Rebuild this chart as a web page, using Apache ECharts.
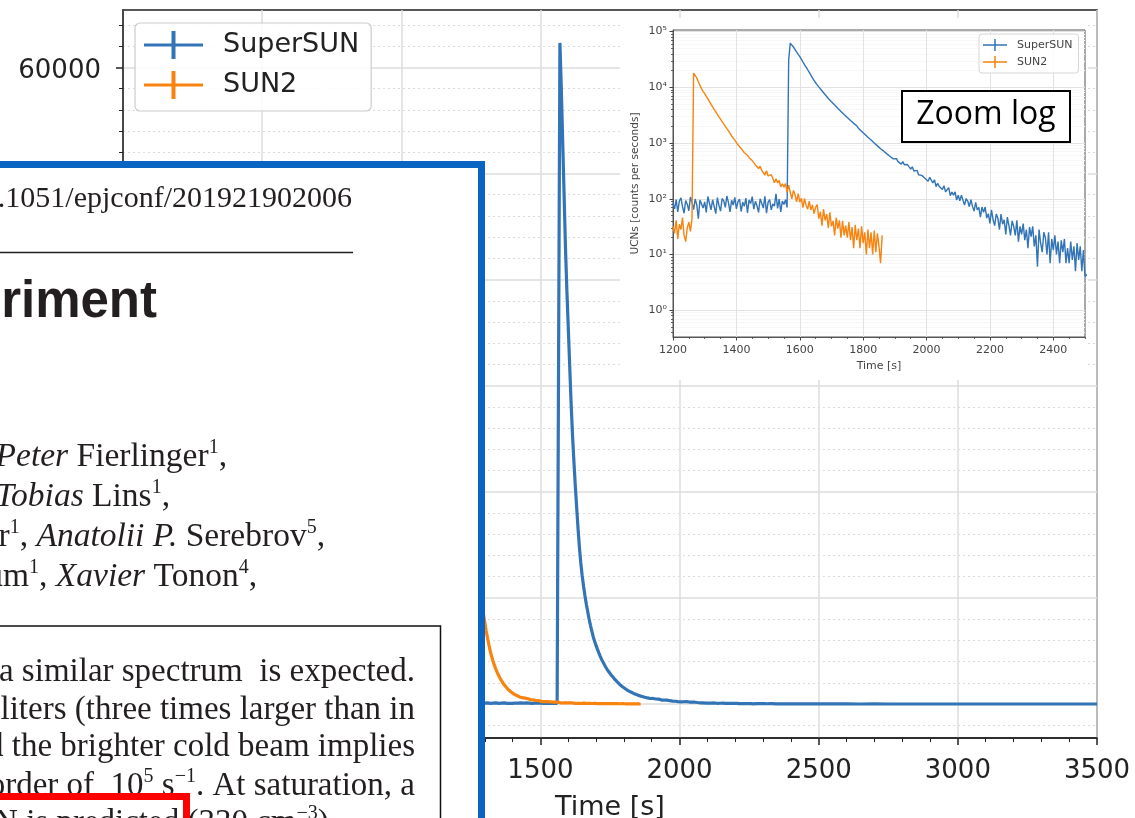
<!DOCTYPE html>
<html><head><meta charset="utf-8">
<script src="https://cdn.jsdelivr.net/npm/echarts@6/dist/echarts.min.js"></script>
<style>html,body{margin:0;padding:0;background:#fff}#c{width:1135px;height:818px}</style>
</head><body><div id="c"></div><script>
// ---------------- data ----------------
const seriesNames = ['SuperSUN', 'SUN2'];
const STEP = 5; // seconds between samples

// SuperSUN : background before the emptying
const superSunBaseStart = 1200;
const superSunBase = [84,66,97,58,91,104,72,55,93,80, 61,108,86,64,99,78,44,95,102,68,
  88,57,110,83,63,96,90,54,105,76, 60,101,92,70,112,85,58,94,77,106,
  66,89,98,59,87,73,103,56,95,82, 109,65,90,75,57,100,93,68,111,55,
  86,97,63,81,74,122,67,99,58,91, 79,96,70];
// SuperSUN : emptying peak and decay
const superSunPeakStart = 1565;
const superSunPeak = [31000,62300,58000,53000,48000,43000,39000,35500,32000,28500,
  25500,23000,20700,18600,16600,14800,13300,12100,11100,10200,
  9400,8700,8000,7400,6850,6300,5900,5500,5150,4820,
  4500,4200,3950,3700,3470,3250,3060,2880,2710,2550,
  2400,2260,2120,2040,1850,1800,1630,1590,1440,1420,
  1270,1260,1130,1110,1000,990,890,900,790,800,
  715,720,640,655,575,590,520,540];
// SuperSUN : noisy tail
const superSunNoisyStart = 1905;
const superSunNoisy = [526,464,475,418,463,409,378,411,374,342,
  374,315,316,324,270,290,263,283,233,240,
  207,243,216,192,220,165,189,168,181,146,
  172,133,142,158,114,132,116,133,95,116,
  92,116,94,77,101,91,72,96,73,60,
  86,63,70,47,71,57,71,45,54,36,
  63,42,33,53,45,28,53,35,42,23,
  47,33,22,40,32,22,41,17,32,23,
  36,18,28,13,31,21,32,14,22,6,
  28,16,11,25,20,10,25,7,19,12,
  22,10,17,7,18,11,19,7,13,7,
  17,8,14,5,16,8,14,5,12,4];
// SuperSUN : late tail (coarse sampling)
const superSunTailStart = 2550, superSunTailStep = 50;
const superSunTail = [8,9,6,7,5,6,5,4,5,4,3,4,3,4,3,3,2,3,2,3];

// SUN2 : background
const sun2BaseStart = 1200;
const sun2Base = [32,24,41,19,35,28,46,22,17,30,38,26,44];
// SUN2 : peak and decay
const sun2DecayStart = 1265;
const sun2Decay = [18000,17500,14800,12600,10900,9500,8500,7700,6900,6200,
  5550,4950,4450,4000,3620,3280,2960,2680,2430,2200,
  1990,1810,1650,
  1530,1340,1310,1130,1050,930,940,800,780,670,680,605,545,555,485,
  500,405,418,349,385,323,332,267,319,257,237,270,232,194,229,192,213,163,186,162,
  187,132,176,131,100,141,119,88,124,87,102,69,101,76,65,91,63,77,54,70,
  79,44,58,33,65,41,53,30,57,32,40,22,46,29,41,20,40,22,33,20,
  38,18,31,13,34,18,29,13,32,16,25,10,28,13,25,10,27,11,24,14,7,22];

// tick values
const mainYMajor = [0,10000,20000,30000,40000,50000,60000];
const mainYMinor = [-2000,2000,4000,6000,8000,12000,14000,16000,18000,22000,24000,26000,28000,
  32000,34000,36000,38000,42000,44000,46000,48000,52000,54000,56000,58000,62000,64000];
const insetXMajor = [1200,1400,1600,1800,2000,2200,2400];
const insetXMinor = [1250,1300,1350,1450,1500,1550,1650,1700,1750,1850,1900,1950,2050,2100,2150,2250,2300,2350,2450,2500];
const insetYMajor = [1,10,100,1000,10000,100000];
const insetYMinor = [0.4,0.5,0.6,0.7,0.8,0.9,2,3,4,5,6,7,8,9,20,30,40,50,60,70,80,90,
  200,300,400,500,600,700,800,900,2000,3000,4000,5000,6000,7000,8000,9000,
  20000,30000,40000,50000,60000,70000,80000,90000];
const supDigits = ['⁰','¹','²','³','⁴','⁵'];

// ---------------- build ----------------
function seg(start, step, vals) { return vals.map((v, i) => [start + i * step, v]); }
const superSunData = [].concat(
  seg(superSunBaseStart, STEP, superSunBase),
  seg(superSunPeakStart, STEP, superSunPeak),
  seg(superSunNoisyStart, STEP, superSunNoisy),
  seg(superSunTailStart, superSunTailStep, superSunTail));
const sun2Data = [].concat(seg(sun2BaseStart, STEP, sun2Base), seg(sun2DecayStart, STEP, sun2Decay));

const BLUE = '#3274b5', ORANGE = '#f8830f';
const FONT = 'DejaVu Sans', SERIF = 'Liberation Serif';
const INK = '#222', INSET_INK = '#444', PAPER_INK = '#231f20';

const chart = echarts.init(document.getElementById('c'));
const mainLegendIcon = 'path://M0,12.5h59v3h-59z M27.5,0h4v28h-4z';
const insetLegendIcon = 'path://M0,5.25h24v1.5h-24z M11.25,0h1.5v12h-1.5z';

function makeRich(fs) {
  return {
    i: {fontStyle: 'italic', fontFamily: SERIF, fontSize: fs, lineHeight: 38, color: PAPER_INK},
    s: {fontFamily: SERIF, fontSize: Math.round(fs * 0.6), lineHeight: 38, verticalAlign: 'top', color: PAPER_INK}
  };
}
function ptext(x, y, text, z, fs) {
  return {type: 'text', x: x, y: y, z: z, silent: true,
    style: {text: text, fontFamily: SERIF, fontSize: fs, lineHeight: 38, fill: PAPER_INK,
      align: 'right', verticalAlign: 'middle', rich: makeRich(fs)}};
}

const option = {
  animation: false,
  backgroundColor: '#fff',
  grid: [
    {left: 123, top: 10, width: 974, height: 728, show: true, borderColor: INK, borderWidth: 1.5, z: 0,
      outerBoundsMode: 'none', containLabel: false},
    {left: 673, top: 30, width: 412, height: 307, show: true, borderColor: '#555', borderWidth: 1,
      backgroundColor: '#fff', z: 5, outerBoundsMode: 'none', containLabel: false}
  ],
  xAxis: [
    {gridIndex: 0, type: 'value', position: 'bottom', min: 0, max: 3500, interval: 500,
      axisLine: {onZero: false, lineStyle: {color: INK, width: 1.5}},
      axisTick: {length: 7, lineStyle: {color: INK, width: 1.5}},
      minorTick: {show: true, splitNumber: 5, length: 4, lineStyle: {color: INK, width: 1}},
      axisLabel: {fontSize: 26, color: INK, fontFamily: FONT, margin: 20, formatter: v => String(v)},
      splitLine: {show: true, lineStyle: {color: '#dcdcdc', width: 1.5}},
      name: 'Time [s]', nameLocation: 'middle', nameGap: 56,
      nameTextStyle: {fontSize: 27, color: INK, fontFamily: FONT}},
    {gridIndex: 1, type: 'value', position: 'bottom', min: 1200, max: 2500, z: 5,
      axisLine: {onZero: false, lineStyle: {color: '#555', width: 1}},
      axisTick: {customValues: insetXMajor, length: 3.5, lineStyle: {color: INSET_INK, width: 1}},
      axisLabel: {customValues: insetXMajor, fontSize: 11, color: INSET_INK, fontFamily: FONT, margin: 8, formatter: v => String(v)},
      splitLine: {show: true, lineStyle: {color: '#e2e2e2', width: 1}},
      name: 'Time [s]', nameLocation: 'middle', nameGap: 24,
      nameTextStyle: {fontSize: 11, color: INSET_INK, fontFamily: FONT}},
    {gridIndex: 1, type: 'value', position: 'bottom', min: 1200, max: 2500, z: 5,
      axisLine: {show: false, onZero: false}, axisLabel: {show: false},
      axisTick: {customValues: insetXMinor, length: 2, lineStyle: {color: INSET_INK, width: 0.8}},
      splitLine: {show: false}}
  ],
  yAxis: [
    {gridIndex: 0, type: 'value', position: 'left', min: -3200, max: 65400,
      axisLine: {show: true, onZero: false, lineStyle: {color: INK, width: 1.5}},
      axisTick: {show: true, customValues: mainYMajor, length: 7, lineStyle: {color: INK, width: 1.5}},
      axisLabel: {customValues: mainYMajor, fontSize: 26, color: INK, fontFamily: FONT, margin: 22,
        verticalAlign: 'top', lineHeight: 7, formatter: v => String(v)},
      splitLine: {show: true, lineStyle: {color: '#dcdcdc', width: 1.5}}},
    {gridIndex: 0, type: 'value', position: 'left', min: -3200, max: 65400,
      axisLine: {show: false, onZero: false}, axisLabel: {show: false},
      axisTick: {show: true, customValues: mainYMinor, length: 4, lineStyle: {color: INK, width: 1}},
      splitLine: {show: true, lineStyle: {color: '#dcdcdc', width: 1, type: [2, 3]}}},
    {gridIndex: 1, type: 'log', logBase: 10, position: 'left', min: 0.33, max: 107000, z: 5,
      axisLine: {show: true, onZero: false, lineStyle: {color: '#555', width: 1}},
      axisTick: {show: true, customValues: insetYMajor, length: 3.5, lineStyle: {color: INSET_INK, width: 1}},
      axisLabel: {customValues: insetYMajor, fontSize: 11, color: INSET_INK, fontFamily: FONT, margin: 6,
        formatter: v => '10' + supDigits[Math.round(Math.log10(v))]},
      splitLine: {show: true, lineStyle: {color: '#e2e2e2', width: 1}},
      name: 'UCNs [counts per seconds]', nameLocation: 'middle', nameGap: 32, nameRotate: 90,
      nameTextStyle: {fontSize: 10.5, color: INSET_INK, fontFamily: FONT}},
    {gridIndex: 1, type: 'log', logBase: 10, position: 'left', min: 0.33, max: 107000, z: 5,
      axisLine: {show: false, onZero: false}, axisLabel: {show: false},
      axisTick: {show: true, customValues: insetYMinor, length: 2, lineStyle: {color: INSET_INK, width: 0.8}},
      splitLine: {show: true, lineStyle: {color: '#f7f7f7', width: 1}}}
  ],
  legend: [
    {data: seriesNames, orient: 'vertical', left: 135, top: 23, selectedMode: false,
      padding: [8, 12, 12, 9], itemWidth: 59, itemHeight: 28, itemGap: 12, icon: mainLegendIcon,
      backgroundColor: 'rgba(255,255,255,0.85)', borderColor: '#cccccc', borderWidth: 1.2, borderRadius: 5,
      textStyle: {fontSize: 27, color: INK, fontFamily: FONT, padding: [0, 0, 0, 15]}, z: 4},
    {data: seriesNames, orient: 'vertical', left: 979, top: 34, selectedMode: false,
      padding: [5, 6, 5, 4], itemWidth: 24, itemHeight: 12, itemGap: 5, icon: insetLegendIcon,
      backgroundColor: 'rgba(255,255,255,0.85)', borderColor: '#d6d6d6', borderWidth: 1, borderRadius: 3,
      textStyle: {fontSize: 11, color: INSET_INK, fontFamily: FONT, padding: [0, 0, 0, 5]}, z: 8}
  ],
  series: [
    {name: 'SuperSUN', type: 'line', xAxisIndex: 0, yAxisIndex: 0, data: superSunData, symbol: 'none',
      lineStyle: {width: 3.2, color: BLUE}, itemStyle: {color: BLUE}, z: 2, silent: true},
    {name: 'SUN2', type: 'line', xAxisIndex: 0, yAxisIndex: 0, data: sun2Data, symbol: 'none',
      lineStyle: {width: 3.2, color: ORANGE}, itemStyle: {color: ORANGE}, z: 2, silent: true},
    {name: 'SuperSUN', type: 'line', xAxisIndex: 1, yAxisIndex: 2, data: superSunData, symbol: 'none',
      lineStyle: {width: 1.4, color: BLUE}, itemStyle: {color: BLUE}, z: 6, silent: true},
    {name: 'SUN2', type: 'line', xAxisIndex: 1, yAxisIndex: 2, data: sun2Data, symbol: 'none',
      lineStyle: {width: 1.4, color: ORANGE}, itemStyle: {color: ORANGE}, z: 6, silent: true}
  ],
  graphic: {elements: [
    // white backdrop of the pasted inset picture
    {type: 'rect', z: 3, silent: true, shape: {x: 620, y: 18, width: 468, height: 362}, style: {fill: '#fff'}},
    // "Zoom log" callout
    {type: 'rect', z: 9, silent: true, shape: {x: 902, y: 91, width: 168, height: 51},
      style: {fill: '#fff', stroke: '#000', lineWidth: 2}},
    {type: 'text', z: 10, silent: true, x: 986, y: 115,
      style: {text: 'Zoom log', fontFamily: 'Open Sans', fontSize: 32, fill: '#000', align: 'center', verticalAlign: 'middle'}},
    // pasted paper excerpt (blue frame)
    {type: 'rect', z: 20, silent: true, shape: {x: -20, y: 164.5, width: 501.5, height: 700},
      style: {fill: '#fff', stroke: '#0a64c2', lineWidth: 7}},
    {type: 'text', z: 21, silent: true, x: 352, y: 199,
      style: {text: 'https://doi.org/10.1051/epjconf/201921902006', fontFamily: SERIF, fontSize: 30, fill: PAPER_INK,
        align: 'right', verticalAlign: 'middle'}},
    {type: 'line', z: 21, silent: true, shape: {x1: -10, y1: 252.5, x2: 353, y2: 252.5}, style: {stroke: PAPER_INK, lineWidth: 1.5}},
    {type: 'text', z: 21, silent: true, x: 157, y: 303,
      style: {text: 'experiment', fontFamily: 'Liberation Sans', fontWeight: 'bold', fontSize: 51, fill: PAPER_INK,
        align: 'right', verticalAlign: 'middle'}},
    ptext(227, 457, '{i|Peter} Fierlinger{s|1},', 21, 33.5),
    ptext(170, 497, '{i|Tobias} Lins{s|1},', 21, 33.5),
    ptext(325, 537, 'Zimmer{s|1}, {i|Anatolii P.} Serebrov{s|5},', 21, 33.5),
    ptext(257, 577, 'Baum{s|1}, {i|Xavier} Tonon{s|4},', 21, 33.5),
    // text box (black frame)
    {type: 'rect', z: 22, silent: true, shape: {x: -20, y: 626, width: 460.5, height: 240},
      style: {fill: '#fff', stroke: '#111', lineWidth: 1.5}},
    ptext(415, 672, 'so a similar spectrum  is expected.', 23, 33),
    ptext(415, 710, '12 liters (three times larger than in', 23, 33),
    ptext(415, 747, 'and the brighter cold beam implies', 23, 33),
    ptext(415, 786, 'order of  10{s|5} s{s|−1}. At saturation, a', 23, 33),
    ptext(337, 823, 'UCN is predicted (330 cm{s|−3}).', 23, 33),
    // red highlight frame
    {type: 'rect', z: 24, silent: true, shape: {x: -20, y: 796.5, width: 206.5, height: 80},
      style: {fill: 'rgba(0,0,0,0)', stroke: '#ff0000', lineWidth: 7}}
  ]}
};
chart.setOption(option);
</script></body></html>
